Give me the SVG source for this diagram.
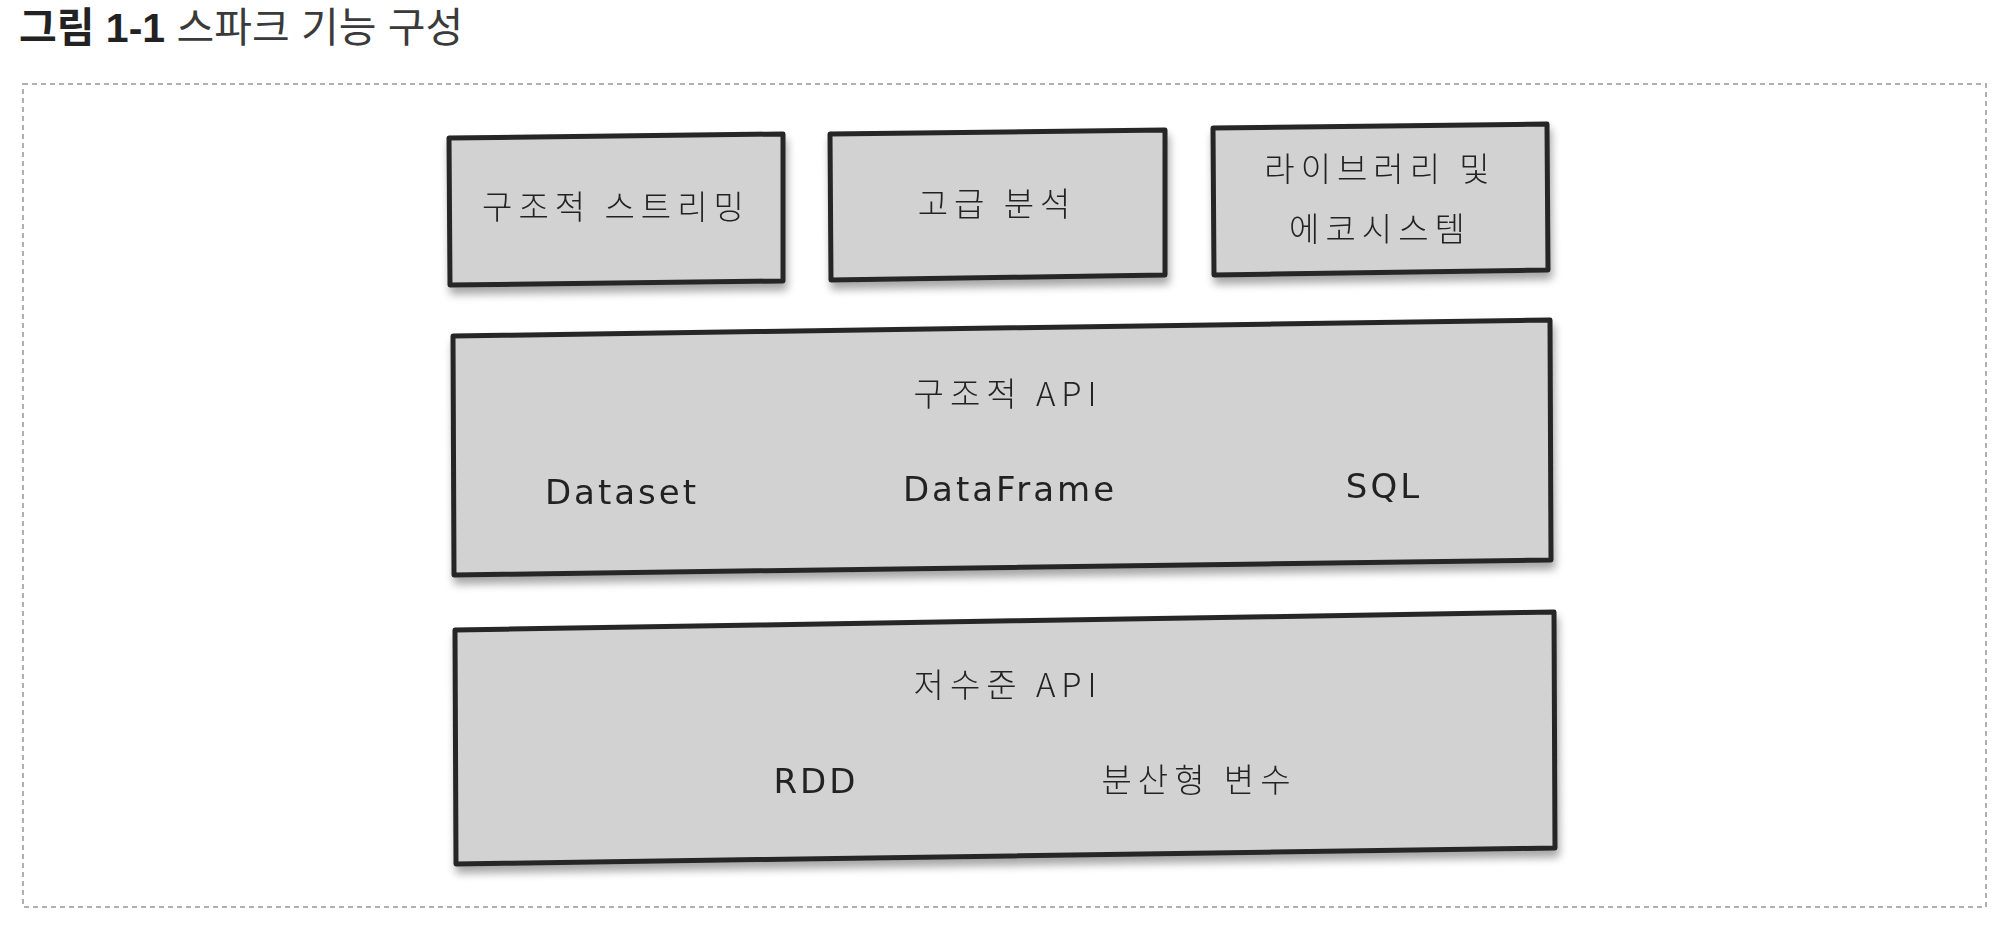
<svg xmlns="http://www.w3.org/2000/svg" width="2000" height="931" viewBox="0 0 2000 931">
<style>
.title-b{font-family:"Liberation Sans","Noto Sans CJK KR",sans-serif;font-size:41px;font-weight:bold;fill:#222}
.title-r{font-family:"Liberation Sans","Noto Sans CJK KR",sans-serif;font-size:41px;fill:#3a3a3a}
.box{fill:#d2d2d2;stroke:#262626;stroke-width:5;stroke-linejoin:round}
.lbl{font-family:"Noto Sans CJK KR","DejaVu Sans",sans-serif;font-size:33px;font-weight:300;fill:#222;text-anchor:middle;letter-spacing:6px}
.lat{font-family:"DejaVu Sans","Noto Sans CJK KR",sans-serif;font-size:34px;fill:#222;text-anchor:middle;letter-spacing:3px}
</style>
<defs>
<filter id="sh" x="-5%" y="-10%" width="110%" height="130%">
<feGaussianBlur in="SourceAlpha" stdDeviation="4"/>
<feOffset dx="2" dy="7" result="o"/>
<feComponentTransfer><feFuncA type="linear" slope="0.35"/></feComponentTransfer>
<feMerge><feMergeNode/><feMergeNode in="SourceGraphic"/></feMerge>
</filter>
</defs>
<rect width="2000" height="931" fill="#ffffff"/>
<g id="title">
<text x="19" y="42"><tspan class="title-b">그림 1-1</tspan><tspan class="title-r"> 스파크 기능 구성</tspan></text>
</g>
<rect id="frame" x="23" y="84" width="1963" height="823" fill="none" stroke="#b0b0b0" stroke-width="2" stroke-dasharray="5 4"/>
<g id="connectors"></g>
<g id="structured-streaming" filter="url(#sh)">
<polygon class="box" points="449,138 783,134 783,281 450,285"/>
<text class="lbl" x="616" y="219">구조적 스트리밍</text>
</g>
<g id="advanced-analytics" filter="url(#sh)">
<polygon class="box" points="830,134 1165,130 1165,275 831,280"/>
<text class="lbl" x="997" y="216">고급 분석</text>
</g>
<g id="libraries-ecosystem" filter="url(#sh)">
<polygon class="box" points="1213,128 1547,124 1548,270 1214,275"/>
<text class="lbl" x="1380" y="181">라이브러리 및</text>
<text class="lbl" x="1380" y="241">에코시스템</text>
</g>
<g id="structured-api" filter="url(#sh)">
<polygon class="box" points="453,336 1550,320 1551,560 454,575"/>
<text class="lbl" x="1008" y="406">구조적 API</text>
<text class="lat" x="622" y="504">Dataset</text>
<text class="lat" x="1010" y="501">DataFrame</text>
<text class="lat" x="1384" y="498">SQL</text>
</g>
<g id="low-level-api" filter="url(#sh)">
<polygon class="box" points="455,630 1554,612 1555,848 456,864"/>
<text class="lbl" x="1008" y="697">저수준 API</text>
<text class="lat" x="816" y="793">RDD</text>
<text class="lbl" x="1199" y="792">분산형 변수</text>
</g>
</svg>
